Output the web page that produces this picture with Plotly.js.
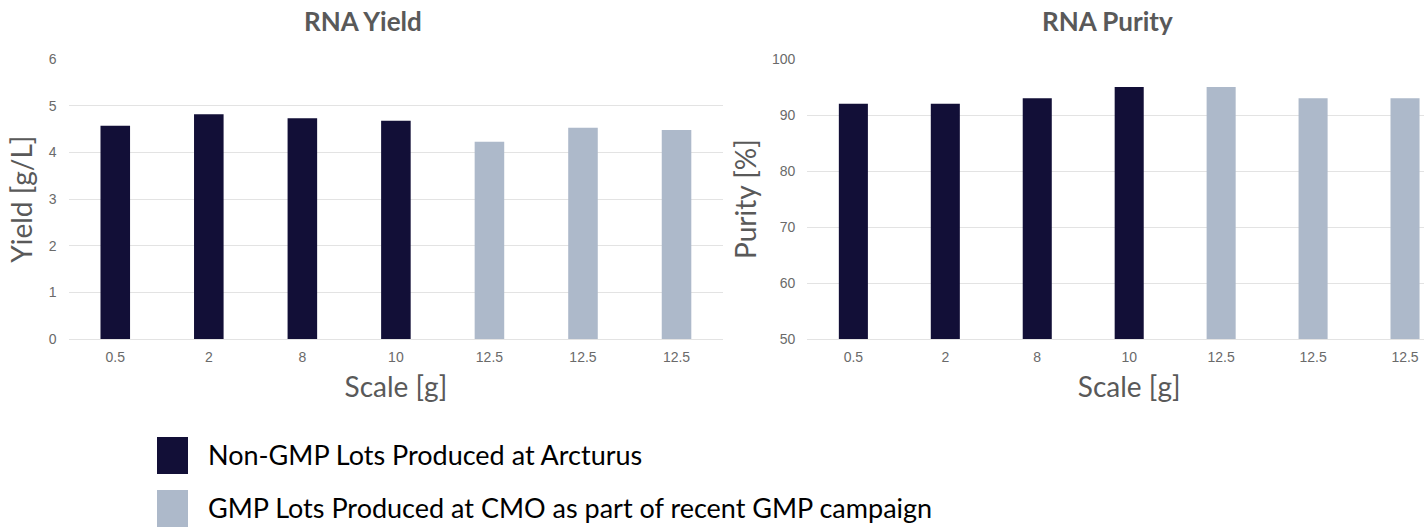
<!DOCTYPE html>
<html>
<head>
<meta charset="utf-8">
<script src="https://cdn.plot.ly/plotly-3.0.1.min.js"></script>
<style>
  html, body { margin: 0; padding: 0; background: #ffffff; overflow: hidden; }
  #chart { width: 1451px; height: 527px; }
</style>
</head>
<body>
<div id="chart"></div>
<script>
// ---- data ----
const scaleLabels = ['0.5', '2', '8', '10', '12.5', '12.5', '12.5'];
const lotGroup = ['Non-GMP', 'Non-GMP', 'Non-GMP', 'Non-GMP', 'GMP', 'GMP', 'GMP'];
const yieldValues = [4.57, 4.82, 4.73, 4.68, 4.23, 4.53, 4.48];
const purityValues = [92, 92, 93, 95, 95, 93, 93];
const groupNames = ['Non-GMP', 'GMP'];
const legendLabels = ['Non-GMP Lots Produced at Arcturus', 'GMP Lots Produced at CMO as part of recent GMP campaign'];
const chartTitles = ['RNA Yield', 'RNA Purity'];
const yTitles = ['Yield [g/L]', 'Purity [%]'];
const xTitle = 'Scale [g]';

// ---- styles ----
const W = 1451, H = 527;
const colors = { 'Non-GMP': '#120f37', 'GMP': '#adb9ca' };
const gridColor = '#e3e3e3';
const textColor = '#595959';
const tickFont = { family: 'Liberation Sans, Arial, sans-serif', size: 14, color: '#6a6a6a' };
const bigFont = { family: 'Lato, Carlito, sans-serif', size: 28, color: textColor };

const idx = scaleLabels.map((_, i) => i);

function tracesFor(values, xa, ya) {
  return groupNames.map(g => {
    const sel = idx.filter(i => lotGroup[i] === g);
    return {
      type: 'bar',
      x: sel,
      y: sel.map(i => values[i]),
      width: 0.316,
      marker: { color: colors[g] },
      name: g,
      xaxis: xa, yaxis: ya,
      showlegend: false,
      hoverinfo: 'x+y'
    };
  });
}

const data = [
  ...tracesFor(yieldValues, 'x', 'y'),
  ...tracesFor(purityValues, 'x2', 'y2')
];

const yDom = [(H - 339.3) / H, (H - 59) / H];

function xAxis(domain) {
  return {
    domain: domain,
    type: 'linear',
    range: [-0.5, 6.5],
    tickvals: idx,
    ticktext: scaleLabels,
    showgrid: false,
    zeroline: false,
    showline: true,
    linecolor: gridColor,
    linewidth: 1,
    ticks: '',
    ticklabelstandoff: 5,
    tickfont: tickFont,
    title: { text: xTitle, font: bigFont, standoff: 13 },
    fixedrange: true
  };
}
function yAxis(range, dtick, title, anchor) {
  return {
    domain: yDom,
    range: range,
    dtick: dtick,
    anchor: anchor,
    showgrid: true,
    gridcolor: gridColor,
    gridwidth: 1,
    zeroline: false,
    showline: false,
    ticks: '',
    ticklabelstandoff: 11,
    tickfont: tickFont,
    title: { text: title, font: bigFont, standoff: 7 },
    fixedrange: true
  };
}

const legendTop = [437, 490];
const shapes = groupNames.map((g, k) => ({
  type: 'rect', xref: 'paper', yref: 'paper',
  x0: 157 / W, x1: 188 / W,
  y0: (H - (legendTop[k] + 37)) / H, y1: (H - legendTop[k]) / H,
  fillcolor: colors[g], line: { width: 0 }
}));

const legendAnn = legendLabels.map((t, k) => ({
  text: t, xref: 'paper', yref: 'paper',
  x: 206 / W, y: (H - (legendTop[k] + 17)) / H,
  xanchor: 'left', yanchor: 'middle', showarrow: false,
  font: { family: 'Lato, Carlito, sans-serif', size: 27, color: '#000000' }
}));

const titleAnn = [
  { text: '<b>' + chartTitles[0] + '</b>', x: 363 / W },
  { text: '<b>' + chartTitles[1] + '</b>', x: 1107 / W }
].map(a => ({
  text: a.text, xref: 'paper', yref: 'paper', x: a.x, y: (H - 21) / H,
  xanchor: 'center', yanchor: 'middle', showarrow: false,
  font: { family: 'Lato, Carlito, sans-serif', size: 26, color: textColor }
}));

const layout = {
  width: W, height: H,
  margin: { l: 0, r: 0, t: 0, b: 0 },
  paper_bgcolor: '#ffffff', plot_bgcolor: '#ffffff',
  showlegend: false,
  barmode: 'overlay',
  xaxis: xAxis([68.5 / W, 723.3 / W]),
  yaxis: yAxis([0, 6], 1, yTitles[0], 'x'),
  xaxis2: Object.assign(xAxis([807.4 / W, 1]), { anchor: 'y2' }),
  yaxis2: yAxis([50, 100], 10, yTitles[1], 'x2'),
  shapes: shapes,
  annotations: [...titleAnn, ...legendAnn]
};

Plotly.newPlot('chart', data, layout, { displayModeBar: false, staticPlot: true });
</script>
</body>
</html>
